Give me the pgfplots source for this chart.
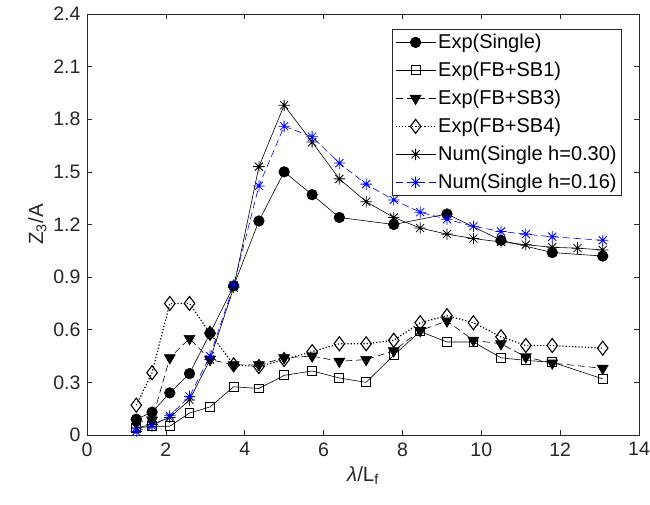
\documentclass[border=0pt]{standalone}
\usepackage{fontspec}
\setmainfont{Liberation Sans}
\usepackage{pgfplots}
\pgfplotsset{compat=1.18}
\usetikzlibrary{plotmarks}

% MATLAB-style '*' marker: a plus and a cross
\pgfdeclareplotmark{mstar}{%
  \pgfpathmoveto{\pgfqpoint{-\pgfplotmarksize}{0pt}}%
  \pgfpathlineto{\pgfqpoint{\pgfplotmarksize}{0pt}}%
  \pgfpathmoveto{\pgfqpoint{0pt}{-\pgfplotmarksize}}%
  \pgfpathlineto{\pgfqpoint{0pt}{\pgfplotmarksize}}%
  \pgfpathmoveto{\pgfqpoint{-.707\pgfplotmarksize}{-.707\pgfplotmarksize}}%
  \pgfpathlineto{\pgfqpoint{.707\pgfplotmarksize}{.707\pgfplotmarksize}}%
  \pgfpathmoveto{\pgfqpoint{-.707\pgfplotmarksize}{.707\pgfplotmarksize}}%
  \pgfpathlineto{\pgfqpoint{.707\pgfplotmarksize}{-.707\pgfplotmarksize}}%
  \pgfusepathqstroke}

\definecolor{axgray}{rgb}{0.15,0.15,0.15}

\begin{document}
\begin{tikzpicture}
\begin{axis}[
  scale only axis, width=552pt, height=421pt,
  xmin=0, xmax=14, ymin=0, ymax=2.4,
  xtick={0,2,...,14}, ytick={0,0.3,...,2.4},
  tick align=inside, tick pos=both, major tick length=5pt,
  axis line style={axgray, line width=0.6pt},
  every tick/.style={axgray, line width=0.6pt},
  ticklabel style={font=\fontsize{19.5}{23}\selectfont, text=axgray},
  xticklabel style={yshift=-4pt},
  yticklabel style={xshift=-3pt, /pgf/number format/fixed, /pgf/number format/precision=1},
  /pgf/number format/assume math mode=true,
  label style={font=\fontsize{20.5}{24}\selectfont, text=axgray},
  xlabel={{\itshape λ}/L\textsubscript{f}},
  xlabel style={yshift=-3pt},
  ylabel={Z\textsubscript{3}/A},
  legend style={at={(0.969,0.964)}, anchor=north east, draw=axgray, line width=0.5pt,
    font=\fontsize{20}{23}\selectfont, row sep=8pt, inner sep=3pt},
  legend cell align=left,
  legend image code/.code={\draw[mark repeat=2, mark phase=2, #1] plot coordinates {(0pt,0pt)(20pt,0pt)(40pt,0pt)};},
]
% Exp(Single)
\addplot[black, line width=0.6pt, mark=*, mark size=5.3pt] coordinates {
(1.25,0.09)(1.65,0.13)(2.1,0.24)(2.6,0.35)(3.12,0.58)(3.72,0.85)(4.36,1.22)(5.0,1.50)
(5.71,1.37)(6.4,1.24)(7.78,1.20)(9.13,1.26)(10.5,1.11)(11.8,1.04)(13.08,1.02)};
% Exp(FB+SB1)
\addplot[black, line width=0.6pt, mark=square, mark size=4.4pt, mark options={fill=white, line width=1pt}] coordinates {
(1.25,0.04)(1.65,0.05)(2.1,0.05)(2.6,0.125)(3.12,0.16)(3.72,0.275)(4.36,0.265)(5.0,0.34)
(5.71,0.365)(6.4,0.325)(7.08,0.30)(7.78,0.455)(8.45,0.59)(9.13,0.53)(9.8,0.53)(10.5,0.44)
(11.13,0.425)(11.8,0.415)(13.08,0.32)};
% Exp(FB+SB3)
\addplot[black, line width=0.6pt, dash pattern=on 7pt off 4pt, mark=triangle*, mark size=6.3pt, mark options={solid, rotate=180}] coordinates {
(1.25,0.07)(1.65,0.085)(2.1,0.44)(2.6,0.55)(3.12,0.43)(3.72,0.40)(4.36,0.40)(5.0,0.44)
(5.71,0.45)(6.4,0.42)(7.08,0.43)(7.78,0.48)(8.45,0.595)(9.13,0.65)(9.8,0.54)(10.5,0.52)
(11.13,0.445)(11.8,0.41)(13.08,0.38)};
% Exp(FB+SB4)
\addplot[black, line width=1.2pt, dotted, mark=diamond, mark size=7pt, mark options={solid, fill=white, line width=1.1pt}] coordinates {
(1.25,0.17)(1.65,0.355)(2.1,0.75)(2.6,0.75)(3.12,0.58)(3.72,0.40)(4.36,0.39)(5.0,0.43)
(5.71,0.475)(6.4,0.52)(7.08,0.52)(7.78,0.54)(8.45,0.64)(9.13,0.68)(9.8,0.64)(10.5,0.56)
(11.13,0.51)(11.8,0.51)(13.08,0.495)};
% Num(Single h=0.30)
\addplot[black, line width=0.6pt, mark=mstar, mark size=5.7pt, mark options={line width=0.8pt}] coordinates {
(1.25,0.04)(1.65,0.06)(2.1,0.10)(2.6,0.20)(3.12,0.43)(3.72,0.84)(4.36,1.53)(5.0,1.88)
(5.71,1.67)(6.4,1.46)(7.08,1.33)(7.78,1.24)(8.45,1.18)(9.13,1.145)(9.8,1.12)(10.5,1.10)
(11.13,1.085)(11.8,1.07)(12.44,1.065)(13.08,1.055)};
% Num(Single h=0.16)
\addplot[blue, line width=0.6pt, dash pattern=on 7pt off 4pt, mark=mstar, mark size=5.7pt, mark options={solid, line width=0.8pt}] coordinates {
(1.25,0.02)(1.65,0.05)(2.1,0.11)(2.6,0.22)(3.12,0.45)(3.72,0.855)(4.36,1.42)(5.0,1.76)
(5.71,1.70)(6.4,1.55)(7.08,1.43)(7.78,1.34)(8.45,1.27)(9.13,1.23)(9.8,1.19)(10.5,1.16)
(11.13,1.145)(11.8,1.13)(13.08,1.11)};
\legend{Exp(Single), Exp(FB+SB1), Exp(FB+SB3), Exp(FB+SB4), Num(Single h=0.30), Num(Single h=0.16)}
\end{axis}
\pgfresetboundingbox
\path[use as bounding box] ([shift={(-87pt,-70pt)}]current axis.south west) rectangle ([shift={(11pt,14pt)}]current axis.north east);
\end{tikzpicture}
\end{document}
